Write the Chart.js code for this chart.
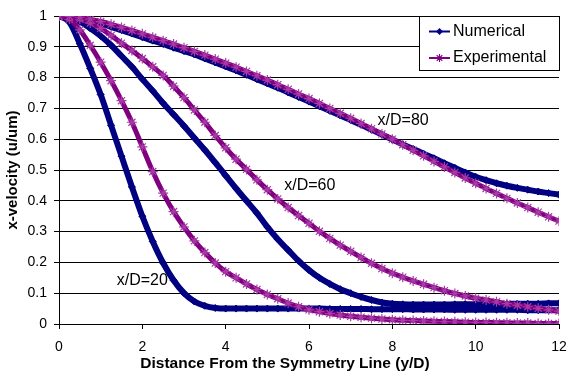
<!DOCTYPE html>
<html>
<head>
<meta charset="utf-8">
<script src="https://cdn.jsdelivr.net/npm/chart.js@4"></script>
<style>
  html, body { margin: 0; padding: 0; background: #fff; }
  #wrap { width: 567px; height: 373px; }
</style>
</head>
<body>
<div id="wrap"><canvas id="velocityChart" width="567" height="373"></canvas></div>
<script>
// distance from the symmetry line (y/D)
var distances = [0, 0.25, 0.5, 0.75, 1, 1.25, 1.5, 1.75, 2, 2.25, 2.5, 2.75, 3, 3.25, 3.5, 3.75,
  4, 4.25, 4.5, 4.75, 5, 5.25, 5.5, 5.75, 6, 6.25, 6.5, 6.75, 7, 7.25, 7.5, 7.75,
  8, 8.25, 8.5, 8.75, 9, 9.25, 9.5, 9.75, 10, 10.25, 10.5, 10.75, 11, 11.25, 11.5, 11.75, 12];

// numerical x-velocity (u/um)
var num20 = [1.000, 0.980, 0.910, 0.830, 0.745, 0.645, 0.545, 0.445, 0.350, 0.268, 0.198, 0.142, 0.100, 0.073, 0.059, 0.052,
  0.050, 0.050, 0.050, 0.050, 0.050, 0.050, 0.050, 0.050, 0.050, 0.050, 0.049, 0.049, 0.049, 0.049, 0.048, 0.048,
  0.048, 0.048, 0.047, 0.047, 0.047, 0.047, 0.046, 0.046, 0.046, 0.046, 0.046, 0.046, 0.046, 0.045, 0.045, 0.045, 0.045];
var num60 = [1.000, 0.995, 0.982, 0.960, 0.935, 0.905, 0.870, 0.835, 0.795, 0.757, 0.717, 0.680, 0.643, 0.604, 0.565, 0.524,
  0.482, 0.440, 0.400, 0.360, 0.315, 0.275, 0.240, 0.205, 0.175, 0.150, 0.130, 0.113, 0.100, 0.088, 0.078, 0.070,
  0.066, 0.064, 0.063, 0.063, 0.063, 0.063, 0.064, 0.064, 0.064, 0.065, 0.065, 0.065, 0.066, 0.066, 0.066, 0.067, 0.067];
var num80 = [1.000, 0.998, 0.993, 0.985, 0.975, 0.965, 0.954, 0.943, 0.931, 0.920, 0.909, 0.897, 0.886, 0.875, 0.862, 0.849,
  0.836, 0.823, 0.809, 0.795, 0.781, 0.767, 0.752, 0.737, 0.722, 0.707, 0.692, 0.677, 0.662, 0.647, 0.631, 0.615,
  0.599, 0.583, 0.568, 0.553, 0.538, 0.522, 0.507, 0.492, 0.478, 0.467, 0.457, 0.449, 0.442, 0.436, 0.430, 0.425, 0.420];

// experimental x-velocity (u/um)
var exp20 = [1.000, 0.990, 0.955, 0.905, 0.850, 0.790, 0.725, 0.655, 0.575, 0.495, 0.425, 0.365, 0.315, 0.270, 0.232, 0.198,
  0.170, 0.150, 0.130, 0.112, 0.096, 0.082, 0.068, 0.056, 0.046, 0.040, 0.034, 0.029, 0.025, 0.022, 0.019, 0.016,
  0.014, 0.012, 0.011, 0.010, 0.009, 0.008, 0.007, 0.006, 0.005, 0.005, 0.004, 0.004, 0.003, 0.003, 0.002, 0.002, 0.002];
var exp60 = [1.000, 0.997, 0.990, 0.977, 0.960, 0.937, 0.912, 0.888, 0.862, 0.835, 0.807, 0.772, 0.735, 0.695, 0.655, 0.612,
  0.572, 0.535, 0.502, 0.468, 0.436, 0.406, 0.378, 0.352, 0.327, 0.301, 0.278, 0.256, 0.236, 0.216, 0.197, 0.180,
  0.165, 0.152, 0.140, 0.129, 0.118, 0.108, 0.099, 0.091, 0.084, 0.078, 0.072, 0.066, 0.061, 0.056, 0.051, 0.046, 0.042];
var exp80 = [1.000, 0.999, 0.996, 0.990, 0.982, 0.973, 0.963, 0.953, 0.942, 0.931, 0.920, 0.909, 0.897, 0.885, 0.873, 0.860,
  0.847, 0.834, 0.820, 0.806, 0.792, 0.777, 0.762, 0.747, 0.732, 0.716, 0.700, 0.684, 0.668, 0.651, 0.634, 0.617,
  0.600, 0.582, 0.564, 0.546, 0.528, 0.510, 0.492, 0.474, 0.457, 0.440, 0.424, 0.408, 0.393, 0.378, 0.363, 0.348, 0.334];

var seriesNames = ['Numerical', 'Experimental'];
var stationLabels = ['x/D=20', 'x/D=60', 'x/D=80'];
var xTitle = 'Distance From the Symmetry Line (y/D)';
var yTitle = 'x-velocity (u/um)';

var FONT = "'Liberation Sans', Arial, sans-serif";
var NAVY = '#000080';
var PURPLE = '#800080';

function toPoints(ys) {
  return distances.map(function (x, i) { return { x: x, y: ys[i] }; });
}

function numSet(ys) {
  return {
    label: seriesNames[0], data: toPoints(ys),
    borderColor: NAVY, backgroundColor: NAVY, borderWidth: 6,
    pointStyle: 'rectRot', pointRadius: 3.5, pointBorderWidth: 1,
    pointBackgroundColor: NAVY, pointBorderColor: NAVY,
    cubicInterpolationMode: 'monotone', order: 2
  };
}
function expSet(ys) {
  return {
    label: seriesNames[1], data: toPoints(ys),
    borderColor: PURPLE, backgroundColor: PURPLE, borderWidth: 5,
    pointStyle: 'star', pointRadius: 5, pointBorderWidth: 1.2,
    pointBorderColor: '#a83aa8',
    cubicInterpolationMode: 'monotone', order: 1
  };
}

function drawDiamond(ctx, x, y, r) {
  ctx.beginPath();
  ctx.moveTo(x, y - r); ctx.lineTo(x + r, y); ctx.lineTo(x, y + r); ctx.lineTo(x - r, y);
  ctx.closePath(); ctx.fill();
}
function drawStar(ctx, x, y, r) {
  ctx.beginPath();
  ctx.moveTo(x - r, y); ctx.lineTo(x + r, y);
  ctx.moveTo(x, y - r); ctx.lineTo(x, y + r);
  var d = r * 0.7;
  ctx.moveTo(x - d, y - d); ctx.lineTo(x + d, y + d);
  ctx.moveTo(x - d, y + d); ctx.lineTo(x + d, y - d);
  ctx.stroke();
}

// legend box, x title and curve labels
var extras = {
  id: 'extras',
  afterDraw: function (chart) {
    var ctx = chart.ctx;
    var xs = chart.scales.x, ys = chart.scales.y;
    ctx.save();
    ctx.fillStyle = '#000';
    ctx.font = '16px ' + FONT;
    ctx.textAlign = 'center';
    ctx.textBaseline = 'middle';
    var anchors = [[2.0, 0.14], [6.02, 0.45], [8.26, 0.66]];
    stationLabels.forEach(function (t, i) {
      ctx.fillText(t, xs.getPixelForValue(anchors[i][0]), ys.getPixelForValue(anchors[i][1]));
    });

    ctx.font = 'bold 15.5px ' + FONT;
    ctx.fillText(xTitle, 285, 364);

    // legend
    ctx.fillStyle = '#fff';
    ctx.fillRect(419.5, 16.5, 140, 54);
    ctx.strokeStyle = '#000';
    ctx.lineWidth = 1;
    ctx.strokeRect(419.5, 16.5, 140, 54);
    var rows = [31.5, 58];
    ctx.lineWidth = 2;
    ctx.strokeStyle = NAVY;
    ctx.beginPath(); ctx.moveTo(429, rows[0]); ctx.lineTo(450, rows[0]); ctx.stroke();
    ctx.fillStyle = NAVY;
    drawDiamond(ctx, 439.5, rows[0], 3.5);
    ctx.strokeStyle = PURPLE;
    ctx.beginPath(); ctx.moveTo(429, rows[1]); ctx.lineTo(450, rows[1]); ctx.stroke();
    ctx.lineWidth = 1.2;
    drawStar(ctx, 439.5, rows[1], 4);
    ctx.fillStyle = '#000';
    ctx.textAlign = 'left';
    ctx.font = '16px ' + FONT;
    ctx.fillText(seriesNames[0], 453, rows[0]);
    ctx.fillText(seriesNames[1], 453, rows[1]);
    ctx.restore();
  }
};

var ctx = document.getElementById('velocityChart').getContext('2d');
var velocityChart = new Chart(ctx, {
  type: 'line',
  data: {
    datasets: [expSet(exp80), expSet(exp60), expSet(exp20), numSet(num80), numSet(num60), numSet(num20)]
  },
  options: {
    responsive: false,
    animation: false,
    devicePixelRatio: 1,
    layout: { padding: { top: 16, right: 8, left: 0, bottom: 0 } },
    plugins: {
      legend: { display: false },
      tooltip: { enabled: false }
    },
    scales: {
      x: {
        type: 'linear', min: 0, max: 12,
        ticks: { stepSize: 2, color: '#000', font: { family: FONT, size: 14 }, padding: 10, maxRotation: 0 },
        grid: { drawOnChartArea: false, drawTicks: true, tickLength: 5, color: '#000' },
        border: { color: '#000', width: 1 },
        afterFit: function (s) { s.height = 49; s.paddingRight = 0; s.paddingLeft = 0; }
      },
      y: {
        min: 0, max: 1,
        ticks: { stepSize: 0.1, color: '#000', font: { family: FONT, size: 14 }, padding: 7,
                 callback: function (v) { return String(+v.toFixed(1)); } },
        grid: { color: '#000', lineWidth: 1, tickLength: 5 },
        border: { color: '#000', width: 1 },
        title: { display: true, text: yTitle, color: '#000',
                 font: { family: FONT, size: 15, weight: 'bold' }, padding: { top: 4, bottom: 0 } },
        afterFit: function (s) { s.width = 59; s.paddingTop = 0; s.paddingBottom = 0; }
      }
    }
  },
  plugins: [extras]
});
</script>
</body>
</html>
